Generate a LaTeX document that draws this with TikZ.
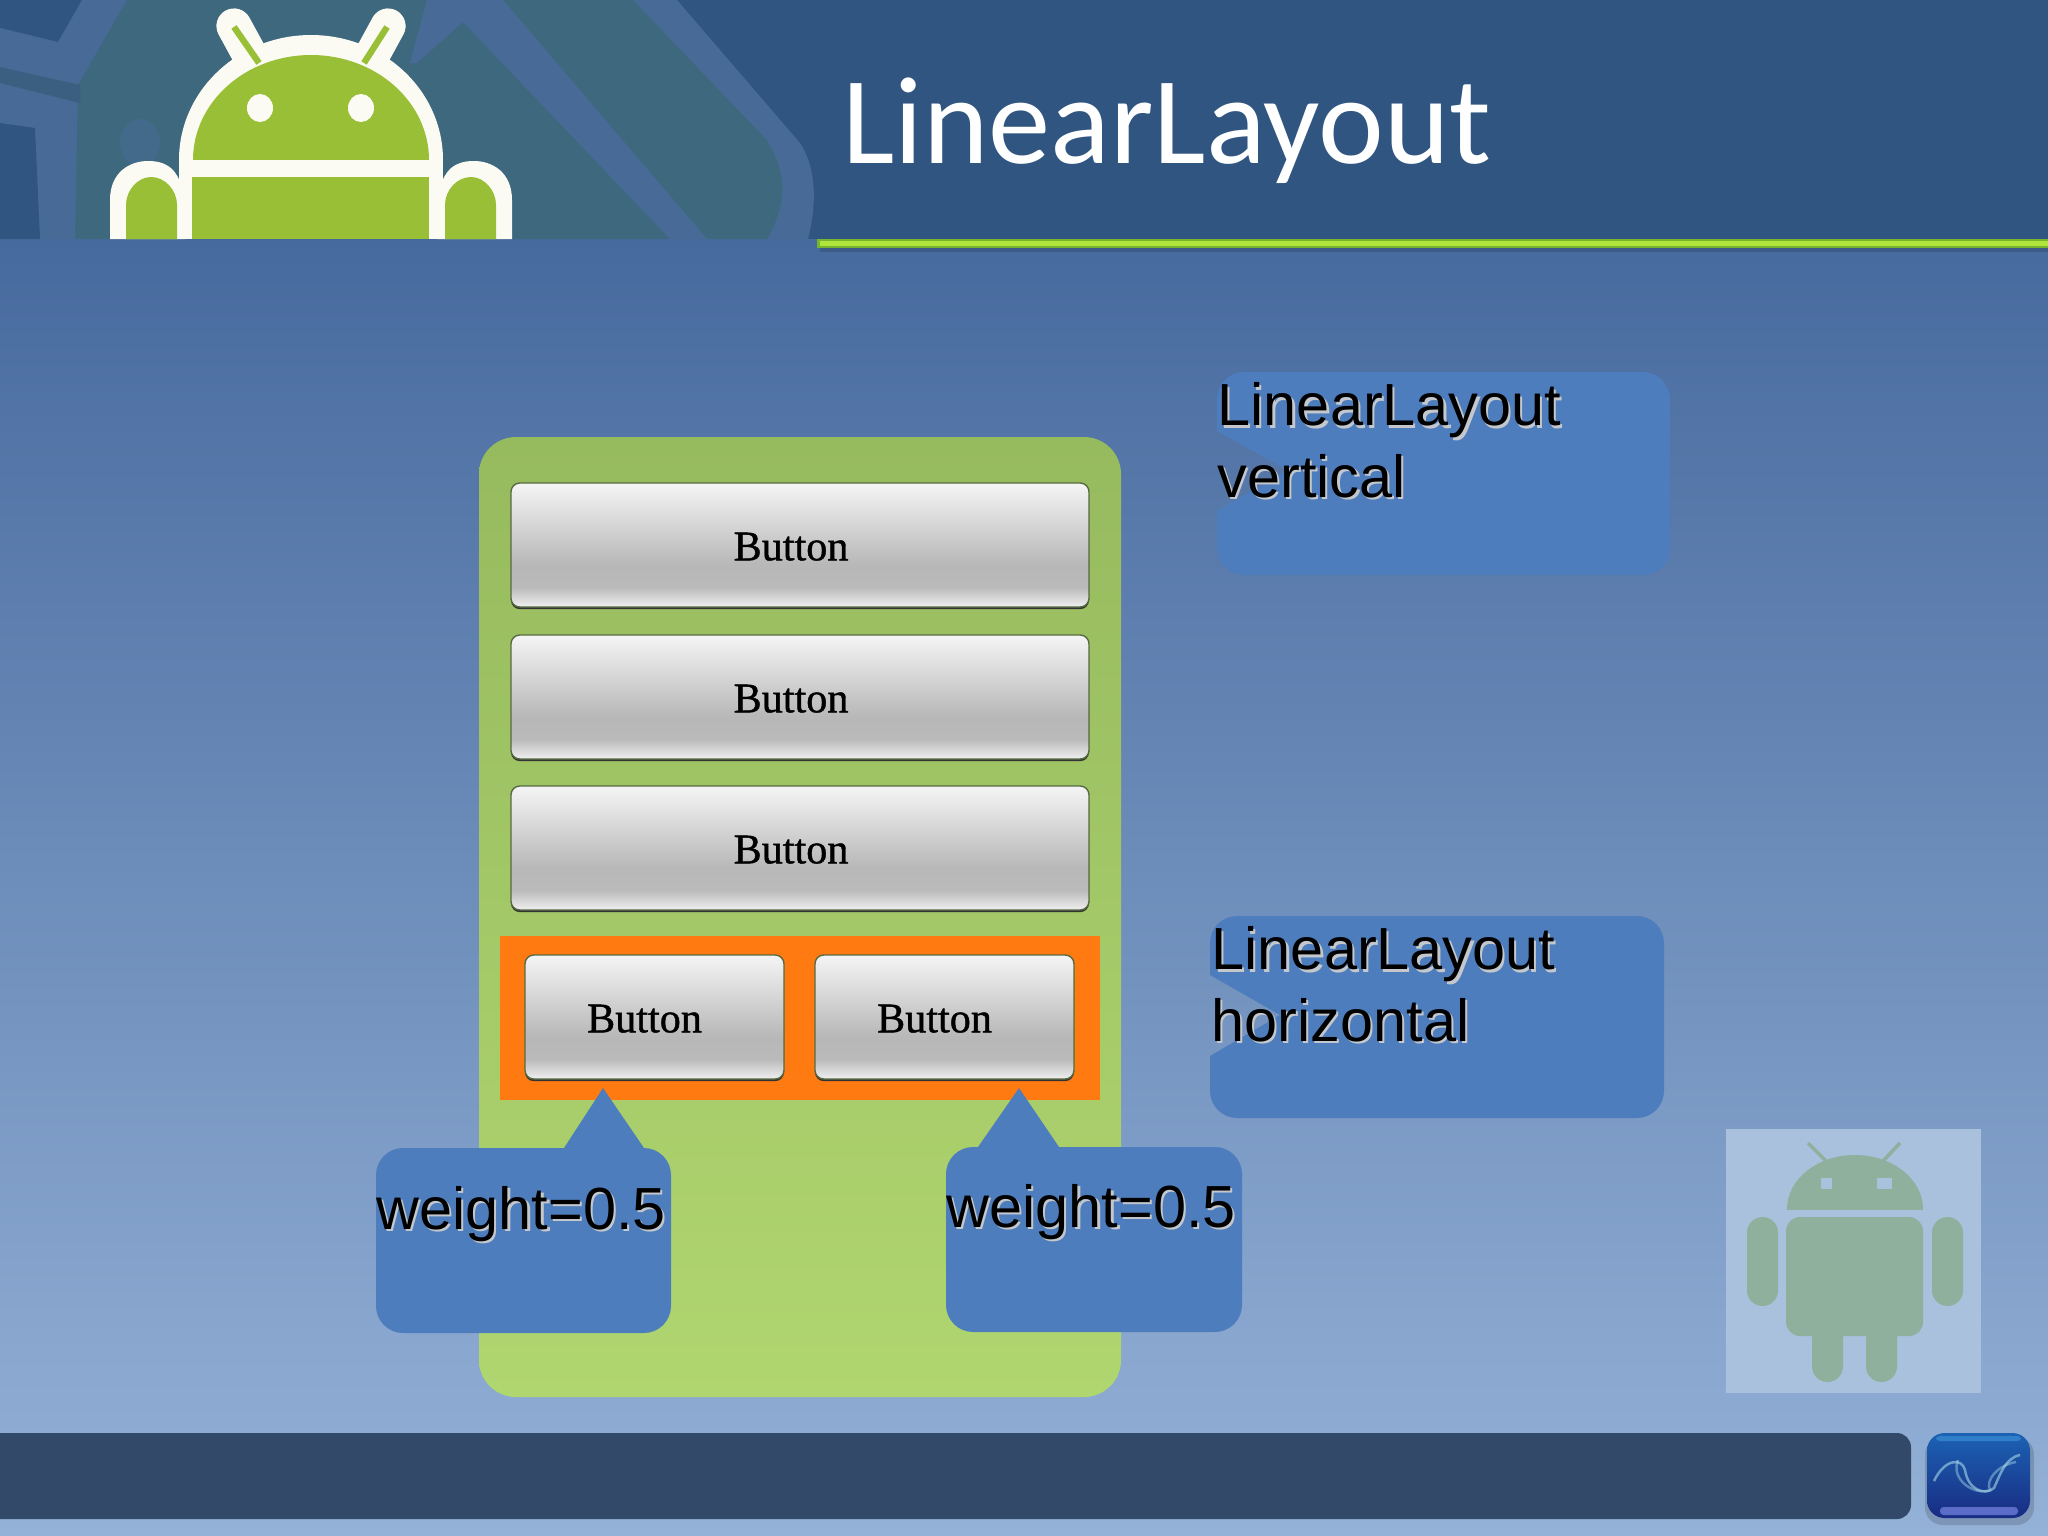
\documentclass[tikz,border=0pt]{standalone}
\usepackage{fontspec}
\setmainfont{Liberation Sans}
\newfontfamily\titlefont{Carlito}
\newfontfamily\buttonfont[FakeBold=1]{Liberation Serif}
\definecolor{headbase}{HTML}{2F5580}
\definecolor{headteal}{HTML}{3E687E}
\definecolor{headband}{HTML}{476B96}
\definecolor{headstrip}{HTML}{3A5F80}
\definecolor{pagetop}{HTML}{476A9E}
\definecolor{pagelow}{HTML}{94B1D7}
\definecolor{droidgreen}{HTML}{98BF35}
\definecolor{droidwhite}{HTML}{FBFBF4}
\definecolor{ruleedge}{HTML}{78B42D}
\definecolor{rulemid}{HTML}{B0E63C}
\definecolor{paneltop}{HTML}{96BA5E}
\definecolor{panellow}{HTML}{B0D670}
\definecolor{buttonedge}{HTML}{566A42}
\definecolor{rowfill}{HTML}{FF7A10}
\definecolor{calloutblue}{HTML}{4E7DBD}
\definecolor{textdrop}{HTML}{C4C8CC}
\definecolor{markback}{HTML}{A9C1DC}
\definecolor{markgreen}{HTML}{8FB09C}
\definecolor{footbar}{HTML}{32496A}
\definecolor{logotop}{HTML}{1C62B4}
\definecolor{logolow}{HTML}{182C82}
\definecolor{logostrip}{HTML}{3A8CD4}
\definecolor{logobase}{HTML}{5A6CC8}
\definecolor{logoswirl}{HTML}{A6D8E8}
\pgfdeclareverticalshading{buttonface}{100bp}{color(0bp)=(white!88!gray); color(25bp)=(white!88!gray); color(33bp)=(black!27); color(42bp)=(black!28); color(75bp)=(black!4); color(100bp)=(black!4)}
\newcommand{\softdrop}[1]{\rlap{\kern0.6pt\raisebox{-0.7pt}{\textcolor{textdrop}{#1}}}#1}
\tikzset{
    buttonbox/.style={draw=buttonedge,line width=0.4pt,shade,shading=buttonface,rounded corners=2.5pt,preaction={fill=black!80,transform canvas={yshift=-0.6pt}}},
    buttontext/.style={font=\buttonfont\fontsize{12}{14}\selectfont,text=black,yshift=-0.017cm},
    calloutbox/.style={fill=calloutblue},
    callouttext/.style={font=\fontsize{16.9}{20.4}\selectfont,text=black,inner sep=0pt,align=left},
    whitepart/.style={fill=droidwhite},
    greenpart/.style={fill=droidgreen},
    markpart/.style={fill=markgreen}
}
\begin{document}
\begin{tikzpicture}[x=0.01cm,y=-0.01cm]
    \useasboundingbox (0,0) rectangle (2048,1536);
    \shade[top color=pagetop,bottom color=pagelow] (0,239) rectangle (2048,1536);
    \fill[headbase] (0,0) rectangle (2048,239);
    \fill[headteal] (127,0) -- (650,0) -- (790,150) -- (800,239) -- (75,239) -- (75,90) -- cycle;
    \fill[headband] (0,28) -- (58,42) -- (82,0) -- (127,0) -- (78,85) -- (75,239) -- (0,239) -- cycle;
    \fill[headstrip] (0,67) -- (80,85) -- (80,103) -- (0,83) -- cycle;
    \fill[headbase] (0,123) -- (35,128) -- (40,239) -- (0,239) -- cycle;
    \fill[headband!50!headteal] (140,143) ellipse [x radius=20,y radius=24];
    \fill[headband] (427,0) -- (503,0) -- (707,239) -- (670,239) -- (463,22) -- (417,63) -- (410,63) -- cycle;
    \fill[headband] (633,0) -- (677,0) -- (800,143) .. controls (815,165) and (818,200) .. (808,239) -- (767,239) .. controls (790,200) and (785,170) .. (767,140) -- cycle;
    \begin{scope}
        \clip (0,0) rectangle (2048,239);
        \draw[droidwhite,line width=10pt,line cap=round] (234,26) -- (258,70);
        \draw[droidwhite,line width=10pt,line cap=round] (388,26) -- (364,70);
        \begin{scope}
            \clip (0,0) rectangle (2048,170);
            \fill[whitepart] (311,160) ellipse [x radius=132,y radius=125];
        \end{scope}
        \fill[whitepart] (179,160) rectangle (443,178);
        \fill[whitepart] (179,170) rectangle (193,239);
        \fill[whitepart] (428,170) rectangle (443,239);
        \fill[whitepart] (110,239) -- (110,200) .. controls (110,172) and (130,161) .. (148,161) .. controls (170,161) and (180,172) .. (185,200) -- (185,239) -- cycle;
        \fill[whitepart] (512,239) -- (512,200) .. controls (512,172) and (492,161) .. (474,161) .. controls (452,161) and (442,172) .. (437,200) -- (437,239) -- cycle;
        \begin{scope}
            \clip (0,0) rectangle (2048,159);
            \fill[greenpart] (311,160) ellipse [x radius=118,y radius=105];
        \end{scope}
        \draw[droidgreen,line width=1.8pt] (234,27) -- (259,63);
        \draw[droidgreen,line width=1.8pt] (387,27) -- (364,63);
        \fill[whitepart] (260,108) ellipse [x radius=13,y radius=14];
        \fill[whitepart] (361,108) ellipse [x radius=13,y radius=14];
        \fill[greenpart] (192,177) rectangle (429,239);
        \fill[greenpart] (126,239) -- (126,205) .. controls (126,190) and (138,177) .. (151,177) .. controls (165,177) and (177,190) .. (177,205) -- (177,239) -- cycle;
        \fill[greenpart] (496,239) -- (496,205) .. controls (496,190) and (484,177) .. (471,177) .. controls (457,177) and (445,190) .. (445,205) -- (445,239) -- cycle;
    \end{scope}
    \fill[black,opacity=0.15] (820,248) rectangle (2048,252);
    \fill[ruleedge] (817,239) rectangle (2048,248);
    \fill[rulemid] (820,241) rectangle (2048,246);
    \node[font=\titlefont\fontsize{35.4}{40}\selectfont,text=white,anchor=base west,inner sep=0pt] (pagetitle) at (842,163) {LinearLayout};

    \shade[top color=paneltop,bottom color=panellow,rounded corners=10.5pt] (479,437) rectangle (1121,1397);
    \path[buttonbox] (511,483) rectangle (1089,607) node[midway,xshift=-0.09cm,buttontext] (buttonone) {Button};
    \path[buttonbox] (511,635) rectangle (1089,759) node[midway,xshift=-0.09cm,buttontext] (buttontwo) {Button};
    \path[buttonbox] (511,786) rectangle (1089,910) node[midway,xshift=-0.09cm,buttontext] (buttonthree) {Button};
    \fill[rowfill] (500,936) rectangle (1100,1100);
    \path[buttonbox] (525,955) rectangle (784,1079) node[midway,xshift=-0.1cm,buttontext] (buttonleft) {Button};
    \path[buttonbox] (815,955) rectangle (1074,1079) node[midway,xshift=-0.1cm,buttontext] (buttonright) {Button};

    \path[calloutbox,rounded corners=7.7pt] (671,1240) -- (671,1333) -- (376,1333) -- (376,1148) [sharp corners] -- (564,1148) -- (603,1088) -- (644,1148) [rounded corners=7.7pt] -- (671,1148) -- cycle;
    \node[callouttext,anchor=base west] (weightleft) at (376,1229) {\softdrop{weight=0.5}};
    \path[calloutbox,rounded corners=7.7pt] (1242,1240) -- (1242,1332) -- (946,1332) -- (946,1147) [sharp corners] -- (978,1147) -- (1019,1088) -- (1059,1147) [rounded corners=7.7pt] -- (1242,1147) -- cycle;
    \node[callouttext,anchor=base west] (weightright) at (946,1227) {\softdrop{weight=0.5}};

    \path[calloutbox,rounded corners=7.7pt] (1670,470) -- (1670,575) -- (1217,575) [sharp corners] -- (1217,511) -- (1287,470) -- (1217,431) [rounded corners=7.7pt] -- (1217,372) -- (1670,372) -- cycle;
    \node[callouttext,anchor=north west] (labelvertical) at (1217,382) {\softdrop{LinearLayout}\\\softdrop{vertical}};
    \path[calloutbox,rounded corners=7.7pt] (1664,1015) -- (1664,1118) -- (1210,1118) [sharp corners] -- (1210,1056) -- (1280,1015) -- (1210,975) [rounded corners=7.7pt] -- (1210,916) -- (1664,916) -- cycle;
    \node[callouttext,anchor=north west] (labelhorizontal) at (1211,926) {\softdrop{LinearLayout}\\\softdrop{horizontal}};

    \fill[markback] (1726,1129) rectangle (1981,1393);
    \begin{scope}
        \clip (1700,1100) rectangle (2000,1209);
        \fill[markpart] (1855,1209) ellipse [x radius=68,y radius=54];
    \end{scope}
    \draw[markgreen,line width=1pt] (1808,1143) -- (1826,1161);
    \draw[markgreen,line width=1pt] (1900,1143) -- (1883,1161);
    \fill[markback] (1821,1178) rectangle (1832,1189);
    \fill[markback] (1877,1178) rectangle (1892,1189);
    \fill[markpart,rounded corners=4pt] (1786,1217) rectangle (1923,1336);
    \fill[markpart,rounded corners=4.4pt] (1747,1217) rectangle (1778,1306);
    \fill[markpart,rounded corners=4.4pt] (1932,1217) rectangle (1963,1306);
    \fill[markpart,rounded corners=4.4pt] (1812,1320) rectangle (1843,1382);
    \fill[markpart,rounded corners=4.4pt] (1866,1320) rectangle (1897,1382);

    \fill[footbar,rounded corners=4pt] (-40,1433) rectangle (1911,1519);

    \fill[black,opacity=0.15,rounded corners=5pt] (1925,1437) rectangle (2034,1525);
    \shade[top color=logotop,bottom color=logolow,rounded corners=5pt] (1927,1433) rectangle (2030,1518);
    \fill[logostrip,rounded corners=1pt,opacity=0.7] (1936,1436) rectangle (2021,1441);
    \fill[logobase,rounded corners=1pt] (1940,1507) rectangle (2018,1515);
    \draw[logoswirl,opacity=0.6,line width=0.7pt] (1934,1481) .. controls (1945,1458) and (1962,1458) .. (1965,1470) .. controls (1968,1490) and (1985,1496) .. (1994,1488) .. controls (2000,1475) and (2005,1458) .. (2020,1455);
    \draw[logoswirl,opacity=0.45,line width=0.7pt] (1958,1460) .. controls (1950,1480) and (1975,1496) .. (1990,1490) .. controls (1985,1480) and (1998,1465) .. (2016,1462);
\end{tikzpicture}
\end{document}
